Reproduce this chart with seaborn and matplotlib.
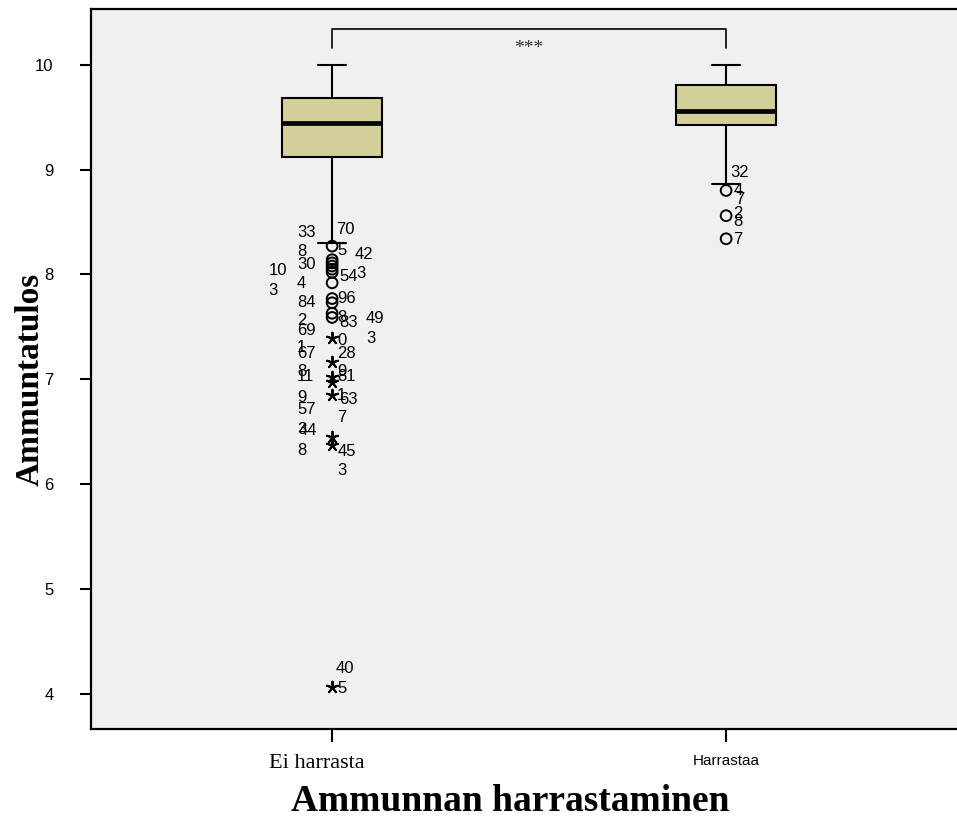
import numpy as np
import pandas as pd
import matplotlib
matplotlib.use("Agg")
import matplotlib.pyplot as plt
import seaborn as sns
from matplotlib.transforms import ScaledTranslation

# ---------------- data ----------------
groups = ["Ei harrasta", "Harrastaa"]
group_pos = [0, 1]
q1 = [9.12, 9.42]
median = [9.44, 9.56]
q3 = [9.68, 9.81]
whisker_low = [8.30, 8.86]
whisker_high = [10.0, 10.0]

# outliers (circles) and extremes (stars)
circle_group = [0, 0, 0, 0, 0, 0, 0, 0, 0, 0, 0, 1, 1, 1]
circle_value = [8.27, 8.14, 8.11, 8.08, 8.05, 8.02, 7.92, 7.77, 7.73, 7.63, 7.59,
                8.80, 8.56, 8.34]
star_group = [0, 0, 0, 0, 0, 0, 0, 0]
star_value = [7.39, 7.17, 7.02, 6.97, 6.85, 6.45, 6.37, 4.07]

# case labels of the outliers (text, x in category units, y in data units)
label_text = ["33", "70", "8", "5", "42", "30", "10", "54", "3", "4", "3", "84",
              "96", "2", "69", "8", "83", "49", "0", "3", "1", "67", "28",
              "8", "9", "11", "81", "9", "1", "63", "57", "7", "3", "44", "8",
              "45", "3", "40", "5",
              "32", "4", "7", "2", "8", "7"]
label_x = [-0.089, 0.010, -0.089, 0.013, 0.058, -0.089, -0.162, 0.018, 0.061,
           -0.089, -0.162, -0.089, 0.013, -0.089, -0.089, 0.013, 0.018, 0.086,
           0.013, 0.086, -0.089, -0.089, 0.013,
           -0.089, 0.013, -0.089, 0.013, -0.089, 0.013, 0.018, -0.089, 0.013,
           -0.089, -0.086, -0.089, 0.013, 0.013, 0.010, 0.013,
           1.010, 1.018, 1.023, 1.018, 1.018, 1.018]
label_y = [8.40, 8.43, 8.22, 8.23, 8.19, 8.09, 8.04, 7.98, 8.01, 7.91, 7.85,
           7.73, 7.77, 7.56, 7.47, 7.59, 7.54, 7.58, 7.37, 7.39, 7.30, 7.25,
           7.25, 7.07, 7.07, 7.03, 7.03, 6.83, 6.85, 6.81, 6.71, 6.64, 6.52,
           6.51, 6.32, 6.31, 6.13, 4.24, 4.05,
           8.97, 8.80, 8.71, 8.58, 8.50, 8.33]

significance = "***"
x_title = "Ammunnan harrastaminen"
y_title = "Ammuntatulos"
y_ticks = [4, 5, 6, 7, 8, 9, 10]

# ---------------- style ----------------
sns.set_style("white")
plt.rcParams["font.family"] = ["Liberation Sans", "DejaVu Sans"]
plt.rcParams["text.color"] = "black"
plt.rcParams["axes.labelcolor"] = "black"
plt.rcParams["xtick.color"] = "black"
plt.rcParams["ytick.color"] = "black"

fig = plt.figure(figsize=(9.57, 8.39), dpi=100)
ax = fig.add_axes([91 / 957, 1 - 729 / 839, 1 - 91 / 957, (729 - 8.7) / 839])
ax.set_facecolor("#F0F0F0")

# boxes
stats = [dict(med=median[i], q1=q1[i], q3=q3[i], whislo=whisker_low[i],
              whishi=whisker_high[i], fliers=[], label=groups[i])
         for i in range(len(groups))]
ax.bxp(stats, positions=group_pos, widths=0.254, patch_artist=True,
       showfliers=False, capwidths=0.07,
       boxprops=dict(facecolor="#D3CF98", edgecolor="black", linewidth=1.5),
       medianprops=dict(color="black", linewidth=3.4),
       whiskerprops=dict(color="black", linewidth=1.5),
       capprops=dict(color="black", linewidth=1.5))

# outliers
circ_df = pd.DataFrame({"g": circle_group, "v": circle_value})
star_df = pd.DataFrame({"g": star_group, "v": star_value})
sns.scatterplot(data=circ_df, x="g", y="v", marker="o", s=60, color="black",
                linewidth=1.4, ax=ax, zorder=5)
ax.collections[-1].set_facecolor("none")
ax.collections[-1].set_edgecolor("black")
sns.scatterplot(data=star_df, x="g", y="v", marker=(5, 2, 0), s=70,
                color="black", linewidth=1.4, ax=ax, zorder=5)
ax.collections[-1].set_edgecolor("black")

for t, x, y in zip(label_text, label_x, label_y):
    ax.text(x, y, t, ha="left", va="center", fontsize=12,
            family="Liberation Sans", color="black", zorder=6)

# significance bracket
ax.plot([group_pos[0], group_pos[0], group_pos[1], group_pos[1]],
        [10.16, 10.343, 10.343, 10.16], color="black", lw=1.2)
ax.text(np.mean(group_pos), 10.15, significance, ha="center", va="center",
        fontsize=14, family="Liberation Serif", color="#333333")

# axes
ax.set_xlim(-0.612, 1.586)
ax.set_ylim(3.667, 10.533)
ax.set_yticks(y_ticks)
ax.set_yticklabels([str(v) for v in y_ticks])
ax.set_xticks(group_pos)
ax.set_xticklabels(groups)
ax.tick_params(axis="y", length=8, width=1.5, pad=19, labelsize=12,
               left=True, direction="out", color="black", labelcolor="black")
ax.tick_params(axis="x", length=9, width=1.5, pad=9, bottom=True,
               direction="out", color="black", labelcolor="black")
xl = ax.get_xticklabels()
xl[0].set_fontfamily("Liberation Serif")
xl[0].set_fontsize(16)
xl[0].set_transform(xl[0].get_transform() +
                    ScaledTranslation(-0.15, 0, fig.dpi_scale_trans))
xl[1].set_fontfamily("Liberation Sans")
xl[1].set_fontsize(11)

for side in ["left", "bottom", "top"]:
    ax.spines[side].set_visible(True)
    ax.spines[side].set_color("black")
    ax.spines[side].set_linewidth(1.6)
ax.spines["right"].set_visible(False)

ax.set_xlabel(x_title, fontsize=27, fontweight="bold",
              family="Liberation Serif", va="center", color="black")
ax.xaxis.set_label_coords(0.4838, -0.1)
ax.set_ylabel(y_title, fontsize=24, fontweight="bold",
              family="Liberation Serif", va="center", color="black")
ax.yaxis.set_label_coords(-0.0704, 0.4854)

fig.savefig("out.png", dpi=100)
